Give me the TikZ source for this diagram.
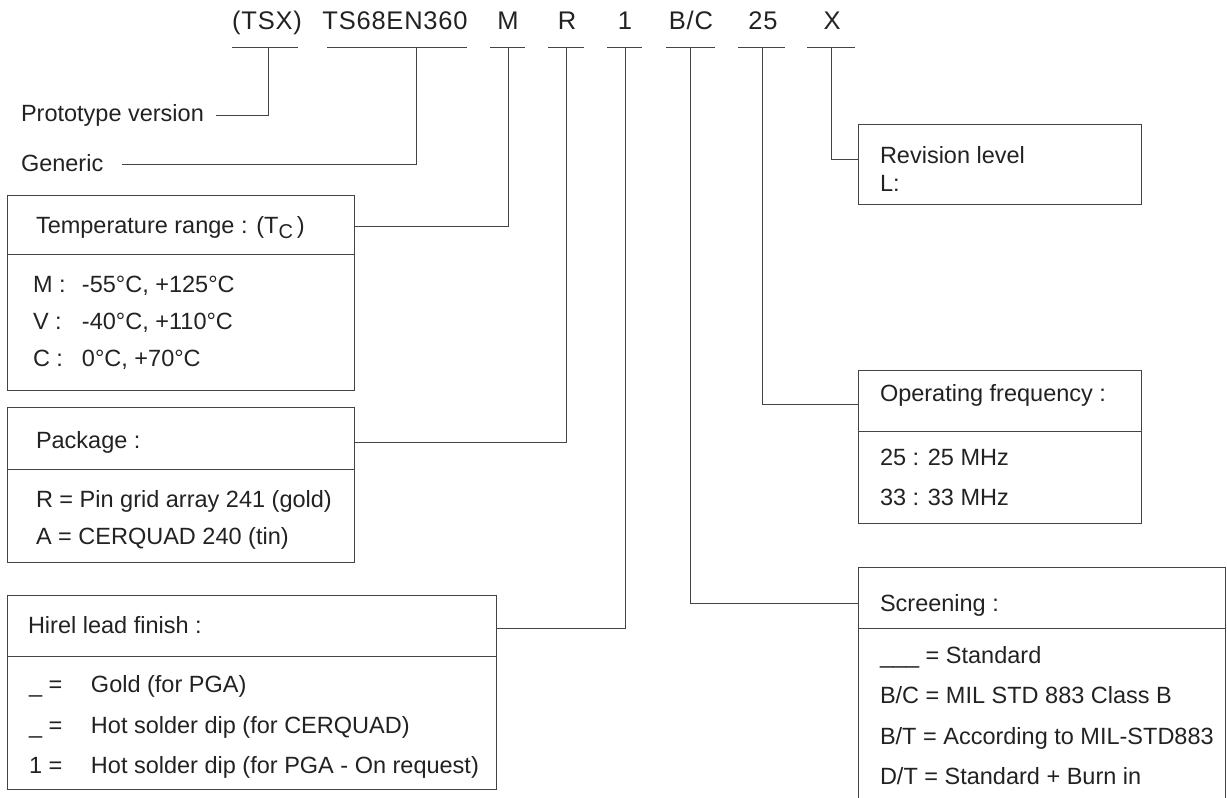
\documentclass[tikz,border=0pt]{standalone}
\usepackage{fontspec}
\setmainfont{Liberation Sans}
\definecolor{inkc}{HTML}{222222}
\definecolor{linec}{HTML}{444444}
\begin{document}
\begin{tikzpicture}[x=1pt,y=-1pt,
  txt/.style={inner sep=0pt, outer sep=0pt, text=inkc, font=\fontsize{23.5}{27}\selectfont, anchor=base west},
  toplbl/.style={inner sep=0pt, outer sep=0pt, text=inkc, anchor=base, font=\fontsize{25.5}{29}\selectfont\addfontfeature{LetterSpace=3}},
  ln/.style={line width=0.9pt, draw=linec},
  boxpart/.style={ln, inner sep=0pt, outer sep=0pt, anchor=north west},
]
\useasboundingbox (0,0) rectangle (1227,798);
\clip (0,0) rectangle (1227,798);

% ---- top code labels ----
\node[toplbl] (tTSX) at (267,29) {(TSX)};
\node[toplbl] (tGen) at (395,29) {TS68EN360};
\node[toplbl] (tM)   at (508,29) {M};
\node[toplbl] (tR)   at (567,29) {R};
\node[toplbl] (tOne) at (625,29) {1};
\node[toplbl] (tBC)  at (691,29) {B/C};
\node[toplbl] (tFr)  at (763,29) {25};
\node[toplbl] (tX)   at (832,29) {X};

% underlines
\draw[ln] (232,47) -- (298,47);
\draw[ln] (327,47) -- (467,47);
\draw[ln] (490,47) -- (525,47);
\draw[ln] (548,47) -- (584,47);
\draw[ln] (607,47) -- (642,47);
\draw[ln] (666,47) -- (715,47);
\draw[ln] (738,47) -- (785,47);
\draw[ln] (807,47) -- (855,47);

% connection points on underlines
\coordinate (sTSX) at (268,47);
\coordinate (sGen) at (416,47);
\coordinate (sM)   at (508,47);
\coordinate (sR)   at (566,47);
\coordinate (sOne) at (625,47);
\coordinate (sBC)  at (690,47);
\coordinate (sFr)  at (762,47);
\coordinate (sX)   at (831,47);

% ---- plain labels ----
\node[txt] (proto) at (21,121) {Prototype version};
\node[txt] (gener) at (21,171) {Generic};
\coordinate (protoEnd) at (216,115);
\coordinate (generEnd) at (122,164);

% ---- Temperature box ----
\node[boxpart, minimum width=347pt, minimum height=59pt] (temph) at (7,195) {};
\node[boxpart, minimum width=347pt, minimum height=136pt] (tempb) at (7,254) {};
\node[txt] (tempt) at (36,233) {Temperature range : (T\raisebox{-5pt}{\fontsize{20}{20}\selectfont C}\hspace{4pt})};
\node[txt] (tempr1) at (33,292) {\makebox[49pt][l]{M :}-55°C, +125°C};
\node[txt] (tempr2) at (33,329) {\makebox[49pt][l]{V :}-40°C, +110°C};
\node[txt] (tempr3) at (33,366) {\makebox[49pt][l]{C :}0°C, +70°C};

% ---- Package box ----
\node[boxpart, minimum width=347pt, minimum height=62pt] (pkgh) at (7,407) {};
\node[boxpart, minimum width=347pt, minimum height=93pt] (pkgb) at (7,469) {};
\node[txt] (pkgt) at (36,448) {Package :};
\node[txt] (pkgr1) at (36,507) {R = Pin grid array 241 (gold)};
\node[txt] (pkgr2) at (36,544) {A = CERQUAD 240 (tin)};

% ---- Hirel lead finish box ----
\node[boxpart, minimum width=489pt, minimum height=61pt] (hirh) at (7,595) {};
\node[boxpart, minimum width=489pt, minimum height=133pt] (hirb) at (7,656) {};
\node[txt] (hirt) at (28,633) {Hirel lead finish :};
\node[txt] (hirr1) at (29,692) {\makebox[62pt][l]{\_ =}Gold (for PGA)};
\node[txt] (hirr2) at (29,733) {\makebox[62pt][l]{\_ =}Hot solder dip (for CERQUAD)};
\node[txt] (hirr3) at (29,773) {\makebox[62pt][l]{1 =}Hot solder dip (for PGA - On request)};

% ---- Revision level box ----
\node[boxpart, minimum width=283pt, minimum height=80pt] (rev) at (858,124) {};
\node[txt] (revt1) at (880,163) {Revision level};
\node[txt] (revt2) at (880,191) {L:};

% ---- Operating frequency box ----
\node[boxpart, minimum width=283pt, minimum height=61pt] (oph) at (858,370) {};
\node[boxpart, minimum width=283pt, minimum height=92pt] (opb) at (858,431) {};
\node[txt] (opt) at (880,401) {Operating frequency :};
\node[txt] (opr1) at (880,465) {25 : 25 MHz};
\node[txt] (opr2) at (880,505) {33 : 33 MHz};

% ---- Screening box ----
\node[boxpart, minimum width=367pt, minimum height=61pt] (scrh) at (858,567) {};
\node[boxpart, minimum width=367pt, minimum height=200pt] (scrb) at (858,628) {};
\node[txt] (scrt) at (880,611) {Screening :};
\node[txt] (scr1) at (880,663) {\_\_\_ = Standard};
\node[txt] (scr2) at (880,703) {B/C = MIL STD 883 Class B};
\node[txt] (scr3) at (880,744) {B/T = According to MIL-STD883};
\node[txt] (scr4) at (880,784) {D/T = Standard + Burn in};

% ---- connectors ----
\draw[ln] (sTSX) |- (protoEnd);
\draw[ln] (sGen) |- (generEnd);
\draw[ln] (sM) |- ([yshift=-1.5pt]temph.east);
\draw[ln] (sR) |- ([yshift=-4pt]pkgh.east);
\draw[ln] (sOne) |- ([yshift=-2.5pt]hirh.east);
\draw[ln] (sBC) |- ([yshift=-5.5pt]scrh.west);
\draw[ln] (sFr) |- ([yshift=-3.5pt]oph.west);
\draw[ln] (sX) |- ([yshift=5pt]rev.west);
\end{tikzpicture}
\end{document}
